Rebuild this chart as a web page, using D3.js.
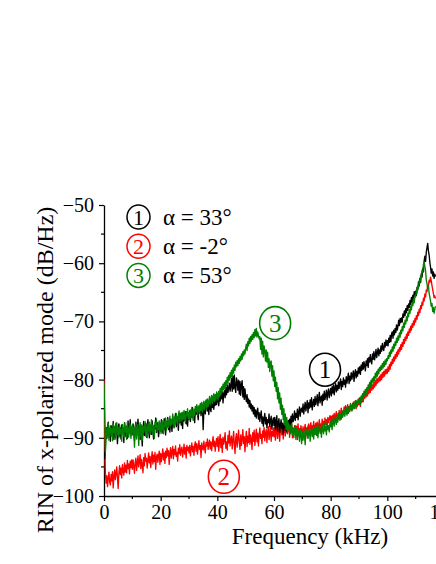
<!DOCTYPE html>
<html><head><meta charset="utf-8">
<script src="https://cdn.jsdelivr.net/npm/d3@7"></script>
<style>body{margin:0;background:#fff}svg{display:block}</style>
</head><body><svg id="c" width="436" height="564"></svg>
<script>
// frequency step 0.25 kHz, from 0 to 117 kHz
const step = 0.25;
const xTicks = [0, 20, 40, 60, 80, 100, 120];
const yTicks = [-100, -90, -80, -70, -60, -50];
const seriesNames = ["α = 33°", "α = -2°", "α = 53°"];
const seriesColors = ["#000000", "#ff0000", "#008000"];
const labelKHz = [78, 42.3, 60.4];
const labelDB = [-78.3, -96.7, -70.3];

const black33 = [
-92.5,-93.6,-90.4,-88.2,-90.1,-88.6,-87.3,-89.9,-88.5,-90.6,
-87.9,-88.7,-89.4,-87.2,-90.3,-88.8,-89.6,-87.5,-88.9,-91.0,
-88.1,-87.6,-89.7,-88.3,-90.2,-87.8,-89.1,-88.4,-90.8,-87.4,
-88.6,-89.8,-88.0,-90.1,-87.1,-89.3,-88.7,-86.9,-89.5,-88.2,
-89.4,-87.6,-88.9,-90.5,-88.1,-87.3,-89.7,-88.4,-86.8,-89.2,
-88.0,-90.3,-87.7,-88.8,-91.4,-88.5,-87.2,-89.6,-88.1,-87.5,
-89.9,-88.3,-86.9,-88.7,-90.0,-87.8,-88.6,-89.4,-87.1,-88.9,
-90.2,-87.9,-88.4,-86.6,-89.1,-88.2,-87.4,-89.8,-88.0,-87.6,
-88.4,-86.9,-89.2,-87.5,-88.8,-86.7,-87.9,-89.5,-87.2,-88.1,
-86.5,-88.6,-87.3,-89.0,-86.8,-87.7,-88.9,-86.3,-87.6,-88.2,
-86.9,-85.8,-88.1,-87.0,-86.4,-88.7,-86.1,-87.4,-85.9,-87.8,
-86.6,-88.4,-85.7,-87.1,-86.3,-85.5,-87.6,-86.0,-88.0,-85.9,
-86.8,-85.4,-87.2,-85.9,-86.4,-84.8,-86.7,-85.6,-87.4,-85.1,
-86.0,-84.6,-85.8,-86.9,-84.9,-85.7,-84.3,-86.2,-85.0,-84.7,
-88.6,-85.3,-84.2,-85.9,-84.6,-83.8,-85.4,-84.1,-86.0,-83.7,
-84.9,-85.5,-83.6,-84.8,-83.2,-85.1,-83.9,-84.4,-82.8,-84.3,
-83.6,-82.4,-84.5,-82.9,-83.7,-82.1,-83.3,-81.8,-84.0,-82.5,
-81.9,-83.1,-81.4,-82.6,-80.9,-82.2,-81.5,-80.6,-82.0,-81.1,
-79.8,-82.0,-79.4,-81.6,-79.2,-81.4,-82.2,-79.7,-80.3,-81.8,
-80.1,-82.5,-80.3,-82.7,-80.9,-80.2,-83.0,-81.2,-83.4,-81.6,
-82.9,-83.8,-82.6,-84.1,-83.3,-84.7,-83.6,-85.0,-84.2,-85.4,
-84.5,-85.9,-84.8,-86.3,-85.2,-86.6,-85.5,-84.9,-86.8,-85.7,
-87.2,-86.1,-85.4,-87.5,-86.4,-88.0,-86.7,-85.8,-87.6,-86.5,
-88.3,-86.9,-87.4,-85.9,-88.1,-87.0,-86.3,-88.5,-87.2,-86.6,
-87.9,-86.5,-88.6,-87.1,-86.2,-88.9,-87.4,-86.7,-89.1,-87.8,
-86.9,-88.4,-87.5,-89.3,-88.0,-86.8,-88.7,-87.6,-89.0,-88.2,
-87.0,-88.5,-86.8,-87.9,-86.3,-87.5,-85.9,-87.2,-86.6,-85.4,
-87.0,-85.8,-86.5,-85.1,-86.9,-85.6,-84.7,-86.3,-85.2,-84.9,
-85.6,-84.2,-85.9,-84.8,-83.9,-85.4,-84.5,-83.6,-85.7,-84.0,
-84.9,-83.5,-84.7,-83.1,-85.2,-84.1,-83.4,-84.6,-82.9,-84.3,
-83.7,-82.6,-84.5,-83.3,-82.2,-84.0,-83.1,-82.8,-84.4,-82.5,
-83.6,-82.0,-83.4,-82.7,-81.8,-83.5,-82.3,-81.6,-83.1,-82.2,
-81.5,-82.8,-81.2,-82.3,-80.9,-82.6,-81.4,-80.7,-82.1,-81.0,
-81.8,-80.4,-81.5,-80.6,-79.9,-81.7,-80.3,-81.2,-79.7,-80.8,
-80.1,-81.3,-79.5,-80.6,-79.8,-78.9,-80.7,-79.4,-80.2,-78.8,
-79.9,-79.2,-78.5,-80.3,-79.0,-78.3,-79.7,-78.6,-79.4,-78.0,
-78.9,-77.8,-79.1,-77.5,-78.4,-77.1,-78.2,-76.9,-77.7,-78.5,
-76.8,-77.6,-76.4,-77.9,-76.2,-77.0,-75.7,-76.8,-77.3,-75.6,
-76.5,-75.2,-76.6,-75.9,-74.8,-76.2,-75.4,-74.6,-75.9,-74.9,
-75.5,-74.2,-75.1,-73.8,-74.7,-75.0,-73.6,-74.4,-73.2,-74.1,
-73.3,-74.2,-72.9,-73.6,-72.4,-73.5,-72.1,-71.8,-72.9,-71.5,
-72.3,-71.2,-71.9,-70.6,-71.5,-70.9,-69.8,-70.7,-69.5,-70.2,
-69.4,-70.1,-68.7,-69.3,-68.2,-69.0,-67.8,-68.5,-67.3,-68.1,
-67.0,-67.6,-66.4,-67.1,-65.9,-66.7,-65.5,-66.2,-64.9,-65.6,
-64.8,-65.5,-64.1,-64.6,-63.2,-63.9,-62.6,-63.3,-61.8,-62.4,
-60.9,-61.5,-59.6,-58.8,-59.7,-58.1,-57.3,-56.6,-57.9,-58.6,
-59.8,-60.7,-61.7,-61.0,-62.2,-61.5,-62.6,-61.9,-62.3
];
const redM2 = [
-80.0,-91.0,-96.2,-97.8,-96.5,-98.4,-97.0,-95.9,-97.6,-98.1,
-96.3,-97.4,-95.8,-98.6,-96.7,-95.5,-97.2,-96.1,-95.0,-96.8,
-98.7,-96.1,-94.8,-96.3,-95.2,-96.9,-94.6,-95.7,-96.4,-94.3,
-95.9,-94.7,-96.0,-93.9,-95.3,-94.5,-96.2,-94.0,-95.1,-93.8,
-95.4,-93.8,-94.9,-96.1,-94.2,-93.5,-95.6,-94.4,-93.1,-95.0,
-94.1,-92.9,-95.3,-93.7,-94.6,-96.0,-93.4,-94.8,-92.7,-94.0,
-93.5,-95.2,-93.9,-92.6,-94.3,-93.2,-95.1,-93.6,-92.4,-94.5,
-93.0,-94.1,-92.5,-95.4,-93.3,-92.8,-94.2,-93.1,-92.3,-94.6,
-92.7,-94.1,-93.0,-91.9,-93.8,-92.6,-94.4,-92.3,-93.4,-91.8,
-93.1,-92.2,-94.6,-92.8,-91.7,-93.5,-92.4,-91.5,-93.6,-92.0,
-92.9,-91.4,-93.2,-92.5,-94.0,-91.8,-92.7,-91.2,-93.0,-92.1,
-91.6,-93.3,-92.4,-91.1,-92.8,-91.7,-93.5,-91.3,-92.2,-91.6,
-92.6,-91.3,-93.1,-91.8,-90.9,-92.4,-91.5,-93.0,-91.2,-90.7,
-92.3,-91.0,-92.8,-91.6,-90.5,-92.0,-91.3,-93.4,-90.9,-91.8,
-92.1,-90.6,-91.7,-92.6,-90.8,-91.4,-90.2,-92.0,-91.1,-90.4,
-91.9,-90.7,-92.2,-91.0,-89.8,-91.5,-90.6,-92.3,-90.9,-90.1,
-91.5,-89.8,-92.3,-90.6,-89.4,-91.7,-90.2,-92.5,-89.9,-91.1,
-90.4,-89.1,-91.8,-90.7,-92.1,-89.6,-90.9,-88.8,-91.4,-90.3,
-89.7,-91.9,-90.5,-88.9,-91.2,-92.7,-90.1,-89.3,-91.6,-90.0,
-88.7,-90.8,-92.0,-89.5,-91.3,-90.2,-88.6,-91.0,-89.8,-92.4,
-90.2,-88.9,-91.5,-89.7,-90.8,-88.4,-91.1,-89.5,-90.3,-92.0,
-89.1,-90.6,-88.7,-91.3,-89.9,-88.5,-90.7,-89.2,-91.4,-89.6,
-88.3,-90.1,-89.4,-91.0,-88.8,-89.9,-88.2,-90.5,-89.3,-88.6,
-90.8,-89.0,-88.1,-90.3,-89.5,-88.0,-90.6,-88.9,-89.7,-88.3,
-89.8,-88.2,-90.4,-88.9,-87.8,-90.1,-89.0,-88.4,-90.6,-88.7,
-87.6,-89.5,-88.3,-90.2,-88.8,-87.5,-89.7,-88.1,-87.9,-89.3,
-88.6,-87.4,-89.9,-88.2,-89.1,-87.7,-90.0,-88.5,-89.4,-87.9,
-88.8,-90.3,-88.0,-89.2,-87.6,-89.6,-88.4,-89.8,-87.9,-88.7,
-89.3,-88.1,-89.8,-88.5,-87.7,-89.4,-88.3,-90.0,-88.0,-87.6,
-89.1,-88.2,-87.4,-89.0,-87.9,-88.6,-87.2,-89.3,-88.0,-87.5,
-88.7,-87.3,-88.9,-87.8,-86.9,-88.4,-87.6,-88.8,-86.8,-87.9,
-87.2,-88.3,-86.6,-87.7,-86.9,-88.0,-86.5,-87.4,-86.8,-86.2,
-87.4,-86.3,-87.6,-86.1,-87.0,-85.8,-86.9,-86.2,-85.5,-86.7,
-85.9,-86.8,-85.3,-86.4,-85.7,-84.9,-86.2,-85.4,-86.0,-84.7,
-85.6,-84.5,-85.9,-85.0,-84.3,-85.7,-84.6,-85.3,-84.1,-85.0,
-84.4,-85.2,-83.9,-84.8,-84.0,-83.6,-85.0,-83.8,-84.5,-83.3,
-84.3,-83.4,-84.6,-83.1,-83.9,-82.7,-83.8,-82.5,-83.2,-82.1,
-83.0,-81.9,-82.8,-81.6,-82.4,-81.3,-82.2,-81.0,-81.8,-80.9,
-81.6,-80.5,-81.3,-80.2,-81.0,-79.9,-80.6,-79.7,-80.4,-79.4,
-80.2,-79.1,-80.0,-78.8,-79.6,-78.6,-79.4,-78.3,-79.0,-78.2,
-78.9,-77.8,-78.6,-77.4,-78.2,-77.0,-77.6,-76.5,-77.2,-76.1,
-76.8,-75.7,-76.4,-75.3,-76.0,-74.9,-75.6,-74.5,-75.1,-74.0,
-74.8,-73.6,-74.3,-73.1,-73.8,-72.7,-73.3,-72.2,-72.9,-71.8,
-72.4,-71.3,-71.9,-70.8,-71.5,-70.4,-71.0,-69.9,-70.6,-69.5,
-70.1,-69.0,-69.6,-68.4,-69.0,-67.9,-68.5,-67.3,-67.8,-66.7,
-67.2,-66.0,-66.5,-65.3,-65.8,-64.6,-64.9,-63.8,-63.9,-62.9,
-63.3,-62.4,-63.0,-63.8,-64.5,-65.2,-65.9,-65.6,-66.1
];
const green53 = [
-80.5,-86.0,-92.4,-90.1,-88.3,-89.6,-87.5,-90.4,-88.8,-87.9,
-89.7,-88.4,-90.5,-87.6,-89.1,-88.0,-90.2,-88.7,-87.4,-89.5,
-88.2,-90.0,-87.8,-89.3,-88.5,-90.6,-87.7,-88.9,-89.8,-87.5,
-89.0,-88.1,-90.3,-87.3,-88.6,-89.9,-88.0,-87.6,-90.1,-88.4,
-87.8,-89.6,-88.2,-91.6,-88.9,-87.5,-90.2,-88.4,-87.7,-91.3,
-88.6,-87.4,-89.8,-88.0,-90.4,-87.9,-89.1,-88.3,-87.2,-89.7,
-88.1,-90.0,-87.6,-88.8,-87.3,-89.4,-88.5,-86.9,-89.2,-87.8,
-88.7,-90.1,-87.4,-88.2,-86.8,-89.0,-87.9,-88.6,-87.1,-89.3,
-87.5,-88.9,-87.0,-88.4,-89.3,-87.2,-88.1,-86.6,-88.7,-87.4,
-86.8,-88.2,-87.5,-86.3,-88.0,-86.9,-87.7,-85.9,-87.3,-88.3,
-86.4,-87.6,-85.8,-86.9,-87.8,-86.1,-85.4,-87.3,-86.5,-85.7,
-87.1,-85.6,-86.8,-85.3,-86.4,-87.5,-85.5,-86.2,-85.0,-86.7,
-85.7,-86.9,-85.2,-86.4,-84.8,-85.9,-87.0,-85.1,-86.2,-84.6,
-85.5,-84.3,-86.1,-85.0,-84.5,-85.8,-84.1,-85.3,-83.9,-85.6,
-84.4,-83.7,-85.2,-84.0,-83.5,-84.9,-83.3,-84.6,-83.8,-82.9,
-84.3,-83.4,-82.7,-84.1,-83.0,-82.4,-83.7,-82.6,-83.5,-82.1,
-82.6,-83.5,-82.0,-82.9,-81.5,-82.6,-81.2,-82.1,-80.8,-81.7,
-80.5,-81.6,-80.2,-81.0,-79.6,-80.6,-79.3,-80.1,-78.8,-79.7,
-78.4,-79.5,-78.0,-78.9,-77.5,-78.4,-77.0,-77.8,-76.7,-77.6,
-76.4,-77.2,-76.0,-76.8,-75.6,-76.5,-75.2,-75.9,-74.9,-75.6,
-74.6,-73.9,-75.0,-73.5,-74.2,-72.9,-73.8,-72.6,-73.4,-72.3,
-73.1,-71.9,-72.8,-71.4,-72.5,-71.2,-72.7,-71.8,-72.4,-73.0,
-72.6,-74.8,-72.9,-75.6,-73.4,-76.1,-74.2,-75.0,-76.8,-74.9,
-77.0,-75.3,-77.9,-76.4,-78.6,-77.0,-76.8,-79.4,-77.6,-80.2,
-78.5,-81.2,-79.6,-82.0,-80.5,-83.3,-81.4,-84.0,-82.3,-85.1,
-83.2,-86.0,-84.4,-86.9,-85.0,-87.8,-85.9,-88.6,-86.5,-88.9,
-87.4,-88.6,-87.8,-89.3,-88.1,-87.6,-89.5,-88.3,-90.0,-88.6,
-87.9,-89.7,-88.4,-90.3,-88.8,-89.1,-90.6,-88.5,-89.4,-91.0,
-89.0,-90.4,-88.6,-89.7,-91.2,-88.9,-89.5,-88.2,-90.1,-89.3,
-88.5,-90.6,-89.0,-88.1,-89.8,-88.7,-90.2,-88.4,-89.4,-87.9,
-89.6,-88.3,-90.0,-88.6,-87.7,-89.2,-88.5,-89.9,-87.8,-88.7,
-89.3,-87.5,-88.8,-88.0,-89.5,-87.4,-88.6,-87.9,-89.0,-87.3,
-88.1,-87.0,-88.6,-87.3,-86.5,-88.0,-87.1,-86.3,-87.7,-86.6,
-87.3,-86.1,-85.7,-87.0,-86.0,-86.8,-85.4,-86.5,-85.9,-85.1,
-86.3,-85.4,-84.8,-86.1,-85.2,-85.8,-84.6,-85.5,-84.3,-85.0,
-85.4,-84.1,-84.9,-83.8,-85.0,-84.2,-83.6,-84.7,-83.9,-83.4,
-84.0,-83.1,-84.3,-82.8,-83.6,-82.4,-83.2,-82.0,-82.8,-81.7,
-82.5,-81.4,-82.1,-80.9,-81.6,-80.5,-81.3,-80.1,-80.9,-79.8,
-80.4,-79.5,-80.2,-78.9,-79.7,-78.6,-79.4,-78.2,-79.0,-77.9,
-78.5,-77.6,-78.3,-77.2,-78.0,-76.9,-77.7,-76.6,-77.4,-76.4,
-76.8,-75.9,-76.4,-75.3,-76.0,-74.9,-75.5,-74.4,-75.1,-73.9,
-74.6,-73.5,-74.1,-72.9,-73.6,-72.5,-73.2,-72.0,-72.7,-71.5,
-72.1,-70.9,-71.6,-70.3,-71.0,-69.8,-70.4,-69.2,-69.9,-68.6,
-69.2,-68.0,-68.6,-67.4,-68.0,-66.8,-67.3,-66.1,-66.8,-65.6,
-65.8,-64.6,-65.1,-63.9,-64.3,-63.0,-63.4,-62.1,-62.5,-61.2,
-61.5,-60.2,-59.8,-60.6,-61.3,-62.9,-63.5,-64.4,-63.8,-65.2,
-65.8,-66.5,-67.4,-66.9,-68.3,-67.6,-68.6,-67.9,-67.4
];

const FONT = "'Liberation Serif', 'Times New Roman', serif";
const svg = d3.select("#c");
const x = d3.scaleLinear().domain([0, 120]).range([104, 444]);
const y = d3.scaleLinear().domain([-100, -50]).range([496, 205]);

// axes
const xAxis = d3.axisBottom(x).tickValues(xTicks).tickSize(5).tickSizeOuter(0).tickPadding(4);
const gx = svg.append("g").attr("transform", `translate(0,${y(-100)})`).call(xAxis);
gx.attr("font-family", null);
gx.select(".domain").attr("stroke", "#000").attr("stroke-width", 1.3);
gx.selectAll(".tick line").attr("stroke-width", 1.2);
gx.selectAll("text").style("font-size", "20px").style("font-family", FONT).attr("fill", "#000");
svg.append("g").selectAll("line").data(d3.range(10, 120, 20)).join("line")
  .attr("x1", d => x(d)).attr("x2", d => x(d)).attr("y1", y(-100)).attr("y2", y(-100) + 3)
  .attr("stroke", "#000").attr("stroke-width", 1.2);

const yAxis = d3.axisLeft(y).tickValues(yTicks).tickSize(5).tickSizeOuter(0).tickPadding(5);
const gy = svg.append("g").attr("transform", `translate(${x(0)},0)`).call(yAxis);
gy.attr("font-family", null);
gy.select(".domain").attr("stroke", "#000").attr("stroke-width", 1.3);
gy.selectAll(".tick line").attr("stroke-width", 1.2);
gy.selectAll("text").style("font-size", "20px").style("font-family", FONT).attr("fill", "#000");
svg.append("g").selectAll("line").data(d3.range(-95, -50, 10)).join("line")
  .attr("x1", x(0) - 3).attr("x2", x(0)).attr("y1", d => y(d)).attr("y2", d => y(d))
  .attr("stroke", "#000").attr("stroke-width", 1.2);

// axis titles
svg.append("text").attr("x", 310).attr("y", 544).attr("text-anchor", "middle")
  .style("font-family", FONT).style("font-size", "23px").text("Frequency (kHz)");
svg.append("text").attr("transform", "translate(53,370) rotate(-90)").attr("text-anchor", "middle")
  .style("font-family", FONT).style("font-size", "24px").text("RIN of x-polarized mode (dB/Hz)");

// lines
const line = d3.line().x((d, i) => x(i * step)).y(d => y(d));
svg.append("clipPath").attr("id", "pc").append("rect")
  .attr("x", x(0)).attr("y", 0).attr("width", 440).attr("height", y(-100));
const order = [[redM2, 1], [black33, 0], [green53, 2]];
order.forEach(([data, k]) => {
  svg.append("path").datum(data).attr("d", line).attr("fill", "none")
    .attr("stroke", seriesColors[k]).attr("stroke-width", 1.35).attr("stroke-linejoin", "round")
    .attr("clip-path", "url(#pc)");
});

// legend
const legendY = [217, 246.2, 275.4];
seriesNames.forEach((name, k) => {
  const g = svg.append("g");
  g.append("ellipse").attr("cx", 138.5).attr("cy", legendY[k]).attr("rx", 11.5).attr("ry", 12)
    .attr("fill", "none").attr("stroke", seriesColors[k]).attr("stroke-width", 1.5);
  g.append("text").attr("x", 138.5).attr("y", legendY[k] + 7.5).attr("text-anchor", "middle")
    .style("font-family", FONT).style("font-size", "22px").attr("fill", seriesColors[k]).text(k + 1);
  g.append("text").attr("x", 163).attr("y", legendY[k] + 8)
    .style("font-family", FONT).style("font-size", "23px").attr("fill", "#000").text(name);
});

// in-plot labels
labelKHz.forEach((f, k) => {
  const cx = x(f), cy = y(labelDB[k]);
  svg.append("ellipse").attr("cx", cx).attr("cy", cy).attr("rx", 15.5).attr("ry", 16.5)
    .attr("fill", "none").attr("stroke", seriesColors[k]).attr("stroke-width", 1.6);
  svg.append("text").attr("x", cx).attr("y", cy + 8.5).attr("text-anchor", "middle")
    .style("font-family", FONT).style("font-size", "25px").attr("fill", seriesColors[k]).text(k + 1);
});
</script></body></html>
